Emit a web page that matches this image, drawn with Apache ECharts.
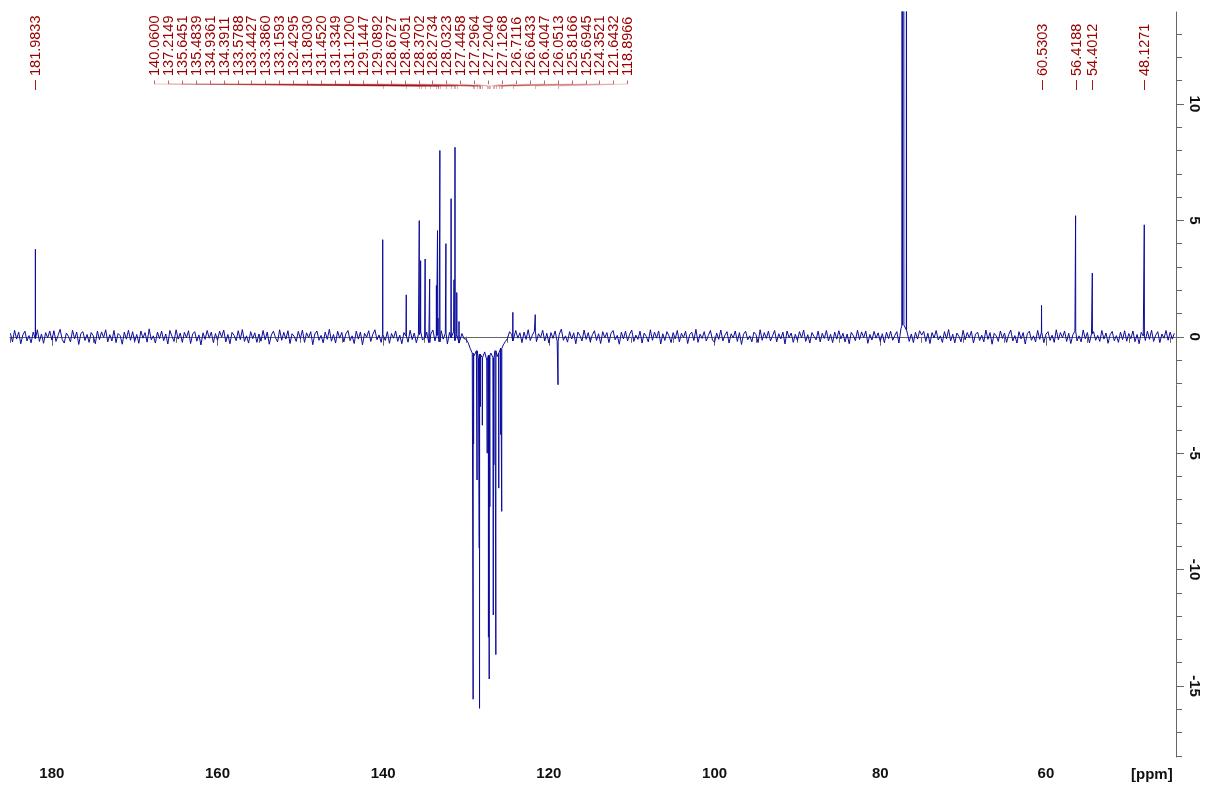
<!DOCTYPE html>
<html>
<head>
<meta charset="utf-8">
<script src="https://cdn.jsdelivr.net/npm/echarts@6/dist/echarts.min.js"></script>
<style>
  html, body { margin: 0; padding: 0; background: #ffffff; }
  #chart { width: 1208px; height: 789px; }
</style>
</head>
<body>
<div id="chart"></div>
<script>
// Axis ranges and ticks (chemical shift in ppm, intensity in arbitrary units)
const ppmLeft = 185.05;
const ppmRight = 44.3;
const intensityMin = -18.05;
const intensityMax = 13.95;
const xTickLabels = [180, 160, 140, 120, 100, 80, 60];
const xMinorTicks = [185, 180, 175, 170, 165, 160, 155, 150, 145, 140, 135, 130, 125, 120, 115, 110, 105, 100, 95, 90, 85, 80, 75, 70, 65, 60, 55, 50, 45];
const yTickLabels = [-15, -10, -5, 0, 5, 10];
const yMinorTicks = [-18, -17, -16, -15, -14, -13, -12, -11, -10, -9, -8, -7, -6, -5, -4, -3, -2, -1, 0, 1, 2, 3, 4, 5, 6, 7, 8, 9, 10, 11, 12, 13];

// Baseline trace, sampled every 0.25 ppm from 185.0 ppm towards high field
const noiseStart = 185.0;
const noiseStep = 0.25;
const baselineNoise = [
  .15,-.22,.28,-.1,.2,-.3,.08,.24,-.18,.05,-.26,.2,-.08,.3,-.2,.12,-.28,.18,-.05,.25,
  -.14,.26,-.2,.06,.32,-.12,-.27,.16,.02,-.22,.28,-.09,.2,-.33,.14,.22,-.16,.1,-.24,.18,
  .04,-.3,.24,-.12,.21,-.03,.3,-.22,.09,-.18,.27,-.25,.14,.05,-.32,.2,-.1,.28,-.15,.22,
  -.2,.1,-.28,.25,-.06,.18,-.23,.34,-.13,.04,-.27,.2,-.08,.24,-.17,.12,-.31,.27,.02,-.2,
  .3,-.1,.16,-.24,.19,-.04,.26,-.29,.12,.22,-.19,.08,-.35,.17,-.11,.27,-.06,.2,-.25,.14,
  -.15,.24,-.02,.29,-.22,.1,-.3,.19,.06,-.17,.26,-.12,.31,-.2,.04,-.27,.22,-.08,.17,-.24,
  .12,-.19,.27,-.13,.2,-.32,.08,.24,-.04,-.22,.3,-.15,.19,-.1,.26,-.29,.13,.02,-.2,.23,
  -.08,.29,-.24,.17,-.04,.22,-.34,.12,.25,-.15,.06,-.26,.2,-.11,.32,-.19,.1,-.27,.24,-.06,
  .19,-.22,.13,.27,-.17,.04,-.29,.24,-.1,.2,-.35,.15,-.02,.26,-.2,.11,.3,-.13,.08,-.24,
  .1,-.16,.22,-.28,.14,-.06,.25,-.2,.07,-.3,.18,.03,-.23,.28,-.12,.16,-.26,.09,.21,-.14,
  -.05,.2,-.25,.12,.29,-.18,.06,-.22,.26,-.1,.15,-.31,.19,-.04,.23,-.16,.1,-.27,.14,-.08,
  -.1,-.25,-.5,-.7,-.85,-.6,-.95,-.75,-.9,-.65,-1.0,-.8,-.7,-.9,-.6,-.85,-.7,-.5,-.35,-.2,
  -.08,.22,.1,-.18,.27,-.06,.17,-.25,.2,-.11,.3,-.16,.07,.24,-.21,.13,-.04,.28,-.18,.15,
  -.27,.18,-.07,.25,-.2,.11,.33,-.15,.04,-.23,.22,-.09,.17,-.3,.2,.05,-.18,.29,-.11,.18,
  -.22,.09,.26,-.16,.13,-.29,.22,-.04,.18,-.25,.15,.27,-.13,.06,-.32,.2,-.09,.24,-.18,.11,
  .29,-.2,.07,-.11,.24,-.27,.16,.02,-.22,.3,-.15,.2,-.06,.25,-.31,.13,-.16,.22,.04,-.25,
  .18,-.09,.27,-.22,.15,-.04,.24,-.29,.09,.2,-.16,.32,-.24,.11,-.07,.22,-.18,.06,.27,-.14,
  -.24,.16,-.11,.29,-.18,.07,.22,-.27,.13,-.05,.25,-.2,.18,-.33,.11,.24,-.13,.04,-.22,.2,
  .09,-.25,.3,-.15,.18,-.07,.24,-.18,.04,.27,-.22,.13,-.09,.2,-.31,.25,-.04,.16,-.24,.11,
  -.16,.22,-.05,.29,-.2,.09,-.27,.18,.02,-.13,.24,-.22,.15,-.07,.27,-.18,.11,-.25,.2,-.1,
  .26,-.09,.15,-.22,.12,-.3,.19,.05,-.17,.28,-.12,.21,-.04,.25,-.28,.1,-.14,.23,-.06,.17,
  -.2,.13,-.26,.2,-.08,.24,-.15,.05,.22,-.27,.35,.5,.45,.3,-.2,.12,-.25,.19,-.1,.26,
  .07,.23,-.2,.15,-.29,.18,-.05,.27,-.14,.04,-.24,.22,-.09,.31,-.18,.11,-.26,.16,.02,-.22,
  .28,-.13,.18,-.04,.24,-.27,.11,.2,-.16,.07,-.22,.29,-.11,.18,-.32,.15,.04,-.2,.25,-.07,
  .16,-.24,.09,.29,-.18,.05,-.27,.22,-.09,.18,-.31,.13,.24,-.15,.04,-.22,.27,-.11,.2,-.25,
  .11,.22,-.16,.07,-.24,.3,-.13,.18,-.04,.25,-.2,.15,-.29,.09,.24,-.18,.04,-.22,.29,-.09,
  .18,-.26,.13,.22,-.15,.06,-.2,.27,-.1,.16,-.28,.09,.23,-.17,.05,-.24,.2,-.12,.26,-.19,
  .14,-.08,.25,-.21,.1,-.3,.19,.03,-.16,.24,-.11,.28,-.2,.07,.22,-.25,.12,-.06,.27,-.15,
  .2,-.1,.15
];

// Resonances: position (ppm) and signed intensity
const peakPpm = [
  181.9833, 140.0600, 137.2149, 135.6451, 135.4839, 134.9361, 134.3911, 133.5788,
  133.4427, 133.3860, 133.1593, 132.4295, 131.8030, 131.4520, 131.3349, 131.1200,
  130.85, 129.1447, 129.0892, 128.6727, 128.4051, 128.3702, 128.2734, 128.0323,
  127.4458, 127.2964, 127.2040, 127.1268, 126.7116, 126.6433, 126.4047, 126.0513,
  125.8166, 125.6945, 124.3521, 121.6432, 118.8966, 77.36, 77.16, 76.84,
  60.5303, 56.4188, 54.4012, 48.1271
];
const peakHeight = [
  3.76, 4.17, 1.80, 4.99, 3.27, 3.34, 2.48, 2.2,
  4.56, 0.8, 8.0, 4.0, 5.93, 2.45, 8.14, 1.9,
  0.66, -15.57, -4.6, -6.15, -9.07, -15.96, -3.0, -3.8,
  -5.0, -12.9, -14.7, -7.3, -11.95, -5.5, -13.65, -6.5,
  -4.2, -7.5, 1.05, 0.95, -2.06, 40, 40, 40,
  1.35, 5.2, 2.74, 4.81
];

// Peak-pick annotations
const clusterLabels = [
  '140.0600', '137.2149', '135.6451', '135.4839', '134.9361', '134.3911', '133.5788',
  '133.4427', '133.3860', '133.1593', '132.4295', '131.8030', '131.4520', '131.3349',
  '131.1200', '129.1447', '129.0892', '128.6727', '128.4051', '128.3702', '128.2734',
  '128.0323', '127.4458', '127.2964', '127.2040', '127.1268', '126.7116', '126.6433',
  '126.4047', '126.0513', '125.8166', '125.6945', '124.3521', '121.6432', '118.8966'
];
const isolatedLabels = ['181.9833', '60.5303', '56.4188', '54.4012', '48.1271'];

// Build the trace: baseline samples plus a narrow spike for every resonance
const spectrum = baselineNoise.map((v, i) => [+(noiseStart - i * noiseStep).toFixed(2), v]);
function baseAt(p) {
  const i = Math.round((noiseStart - p) / noiseStep);
  return baselineNoise[Math.max(0, Math.min(baselineNoise.length - 1, i))];
}
const halfWidth = 0.015;
peakPpm.forEach((p, k) => {
  const b = baseAt(p);
  spectrum.push([p + halfWidth, b], [p, peakHeight[k]], [p - halfWidth, b]);
});
spectrum.sort((a, b) => b[0] - a[0]);

// Label slots: the crowded aromatic labels are fanned out evenly between these shifts
const slotLeftPpm = 167.67;
const slotRightPpm = 110.53;
const labelItems = [];
clusterLabels.forEach((t, k) => {
  const slot = slotLeftPpm - k * (slotLeftPpm - slotRightPpm) / (clusterLabels.length - 1);
  labelItems.push([parseFloat(t), slot, 1, t]);
});
isolatedLabels.forEach(t => labelItems.push([parseFloat(t), parseFloat(t), 0, t]));

const labelColor = '#990000';
const axisColor = '#666666';
const traceColor = '#0c0c9c';
const fontFamily = 'Arial, "Liberation Sans", sans-serif';

function seg(x1, y1, x2, y2, opacity) {
  return {
    type: 'line',
    shape: { x1: x1, y1: y1, x2: x2, y2: y2 },
    style: { stroke: labelColor, lineWidth: 1, opacity: opacity }
  };
}

function renderPeakLabel(params, api) {
  const it = labelItems[params.dataIndex];
  const px = Math.round(api.coord([it[0], 0])[0]) + 0.5;
  const sx = Math.round(api.coord([it[1], 0])[0]) + 0.5;
  const children = [{
    type: 'text',
    x: sx,
    y: 76,
    rotation: Math.PI / 2,
    style: {
      text: it[3],
      fill: labelColor,
      font: '14.5px ' + fontFamily,
      align: 'left',
      verticalAlign: 'middle'
    }
  }];
  if (it[2]) {
    children.push(seg(sx, 80.5, sx, 84, 0.6));
    children.push(seg(sx, 84, px, 86, 0.22));
    children.push(seg(px, 86, px, 89, 0.3));
  } else {
    children.push(seg(px, 80, px, 90, 0.9));
  }
  return { type: 'group', children: children };
}

const chart = echarts.init(document.getElementById('chart'), null, { renderer: 'canvas' });

const xBase = {
  type: 'value',
  inverse: true,
  min: ppmRight,
  max: ppmLeft,
  position: 'bottom',
  splitLine: { show: false }
};
const yBase = {
  type: 'value',
  min: intensityMin,
  max: intensityMax,
  position: 'right',
  splitLine: { show: false }
};

chart.setOption({
  backgroundColor: '#ffffff',
  animation: false,
  grid: { left: 10, right: 32, top: 12, bottom: 32, containLabel: false },
  xAxis: [
    Object.assign({}, xBase, {
      axisLine: { show: true, lineStyle: { color: axisColor, width: 1 } },
      axisTick: { show: true, customValues: xTickLabels, length: 9, lineStyle: { color: axisColor } },
      axisLabel: {
        customValues: xTickLabels,
        color: '#111111',
        fontWeight: 'bold',
        fontSize: 15,
        fontFamily: fontFamily,
        margin: 9
      }
    }),
    Object.assign({}, xBase, {
      axisLine: { show: false },
      axisTick: { show: true, customValues: xMinorTicks, length: 6, lineStyle: { color: axisColor } },
      axisLabel: { show: false }
    })
  ],
  yAxis: [
    Object.assign({}, yBase, {
      axisLine: { show: true, lineStyle: { color: axisColor, width: 1 } },
      axisTick: { show: true, customValues: yTickLabels, length: 8, lineStyle: { color: axisColor } },
      axisLabel: {
        customValues: yTickLabels,
        rotate: -90,
        color: '#111111',
        fontWeight: 'bold',
        fontSize: 15,
        fontFamily: fontFamily,
        margin: 11
      }
    }),
    Object.assign({}, yBase, {
      axisLine: { show: false },
      axisTick: { show: true, customValues: yMinorTicks, length: 6, lineStyle: { color: axisColor } },
      axisLabel: { show: false }
    })
  ],
  graphic: [{
    type: 'text',
    left: 1131,
    top: 767,
    style: { text: '[ppm]', fill: '#111111', font: 'bold 15px ' + fontFamily }
  }],
  series: [
    {
      type: 'line',
      xAxisIndex: 0,
      yAxisIndex: 0,
      data: spectrum,
      symbol: 'none',
      showSymbol: false,
      clip: true,
      silent: true,
      lineStyle: { color: traceColor, width: 1 },
      z: 2
    },
    {
      type: 'custom',
      xAxisIndex: 0,
      yAxisIndex: 0,
      data: labelItems.map(it => [it[0], it[1], it[2]]),
      encode: { x: 0, y: 2 },
      renderItem: renderPeakLabel,
      clip: false,
      silent: true,
      z: 5
    }
  ]
});
</script>
</body>
</html>
